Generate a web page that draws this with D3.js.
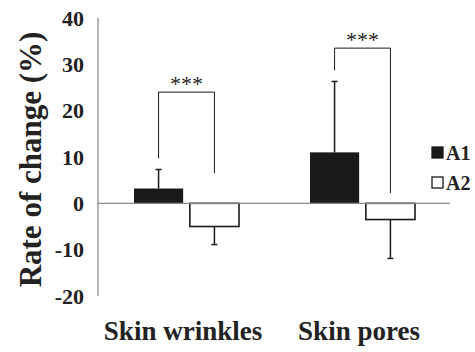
<!DOCTYPE html>
<meta charset="utf-8">
<style>
body { margin: 0; background: #fff; }
text { font-family: "Liberation Serif", "Times New Roman", serif; font-weight: bold; fill: #222; }
</style>
<body>
<script src="https://cdn.jsdelivr.net/npm/d3@7"></script>
<script>
// data
var categories = ["Skin wrinkles", "Skin pores"];
var series = ["A1", "A2"];
var means = { A1: [3.2, 11.0], A2: [-5.0, -3.5] };
var errors = { A1: [4.1, 15.3], A2: [3.9, 8.4] };
var yTicks = [-20, -10, 0, 10, 20, 30, 40];
// significance brackets: top of bracket, left leg end, right leg end
var sigTop = [24, 33.5];
var sigLeft = [9.7, 28.7];
var sigRight = [6.5, 2.2];

var width = 475, height = 352;
var svg = d3.select("body").append("svg")
    .attr("width", width)
    .attr("height", height);

var x0 = d3.scaleBand().domain(categories).range([98, 450]).paddingInner(0).paddingOuter(0);
var x1 = d3.scaleBand().domain(series).range([-52, 53]).paddingInner(0.12);
var y = d3.scaleLinear().domain([-20, 40]).range([296, 18]);

var data = [];
categories.forEach(function(c, i) {
  series.forEach(function(s) {
    data.push({ cat: c, s: s, v: means[s][i], e: errors[s][i] });
  });
});
function cx(d) { return x0(d.cat) + x0.bandwidth() / 2 + x1(d.s) + x1.bandwidth() / 2; }

// y axis line only
svg.append("line")
    .attr("x1", 98).attr("x2", 98)
    .attr("y1", y(40)).attr("y2", y(-20))
    .attr("stroke", "#8a8a8a").attr("stroke-width", 1.3);

svg.selectAll(".ytick")
    .data(yTicks)
  .enter().append("text")
    .attr("class", "ytick")
    .attr("x", 84)
    .attr("y", function(d) { return y(d); })
    .attr("dy", "0.35em")
    .attr("text-anchor", "end")
    .style("font-size", "22px")
    .text(function(d) { return d; });

// bars
svg.selectAll(".bar")
    .data(data)
  .enter().append("rect")
    .attr("x", function(d) { return x0(d.cat) + x0.bandwidth() / 2 + x1(d.s); })
    .attr("width", x1.bandwidth())
    .attr("y", function(d) { return y(Math.max(0, d.v)); })
    .attr("height", function(d) { return Math.abs(y(d.v) - y(0)); })
    .attr("fill", function(d) { return d.s === "A1" ? "#1a1a1a" : "#fff"; })
    .attr("stroke", "#1a1a1a")
    .attr("stroke-width", function(d) { return d.s === "A1" ? 0 : 1.6; });

// error bars (one-sided)
svg.selectAll(".err")
    .data(data)
  .enter().append("line")
    .attr("x1", cx).attr("x2", cx)
    .attr("y1", function(d) { return y(d.v); })
    .attr("y2", function(d) { return y(d.v + Math.sign(d.v) * d.e); })
    .attr("stroke", "#1a1a1a").attr("stroke-width", 1.5);

svg.selectAll(".cap")
    .data(data)
  .enter().append("line")
    .attr("x1", function(d) { return cx(d) - 3; })
    .attr("x2", function(d) { return cx(d) + 3; })
    .attr("y1", function(d) { return y(d.v + Math.sign(d.v) * d.e); })
    .attr("y2", function(d) { return y(d.v + Math.sign(d.v) * d.e); })
    .attr("stroke", "#1a1a1a").attr("stroke-width", 1.5);

// zero line
svg.append("line")
    .attr("x1", 98).attr("x2", 450)
    .attr("y1", y(0)).attr("y2", y(0))
    .attr("stroke", "#8a8a8a").attr("stroke-width", 1.3);

// significance brackets
categories.forEach(function(c, i) {
  var xl = cx({ cat: c, s: "A1" }), xr = cx({ cat: c, s: "A2" });
  svg.append("path")
      .attr("d", "M" + xl + "," + y(sigLeft[i]) + "V" + y(sigTop[i]) + "H" + xr + "V" + y(sigRight[i]))
      .attr("fill", "none").attr("stroke", "#1a1a1a").attr("stroke-width", 1);
  svg.append("text")
      .attr("x", (xl + xr) / 2)
      .attr("y", y(sigTop[i]) - 1)
      .attr("text-anchor", "middle")
      .style("font-size", "22px")
      .style("font-weight", "normal")
      .text("***");
});

// category labels
svg.selectAll(".xlab")
    .data(categories)
  .enter().append("text")
    .attr("x", function(d) { return x0(d) + x0.bandwidth() / 2 - 3; })
    .attr("y", 340)
    .attr("text-anchor", "middle")
    .style("font-size", "27px")
    .text(function(d) { return d; });

// y title
svg.append("text")
    .attr("transform", "translate(41," + ((32 + 287) / 2) + ") rotate(-90)")
    .attr("text-anchor", "middle")
    .style("font-size", "31px")
    .text("Rate of change (%)");

// legend
var legend = svg.selectAll(".legend")
    .data(series)
  .enter().append("g")
    .attr("transform", function(d, i) { return "translate(432," + (147 + i * 30) + ")"; });
legend.append("rect")
    .attr("width", 11).attr("height", 11)
    .attr("fill", function(d) { return d === "A1" ? "#1a1a1a" : "#fff"; })
    .attr("stroke", "#1a1a1a").attr("stroke-width", 1.3);
legend.append("text")
    .attr("x", 14).attr("y", 5.5).attr("dy", "0.35em")
    .style("font-size", "20px")
    .text(function(d) { return d; });
</script>
</body>
